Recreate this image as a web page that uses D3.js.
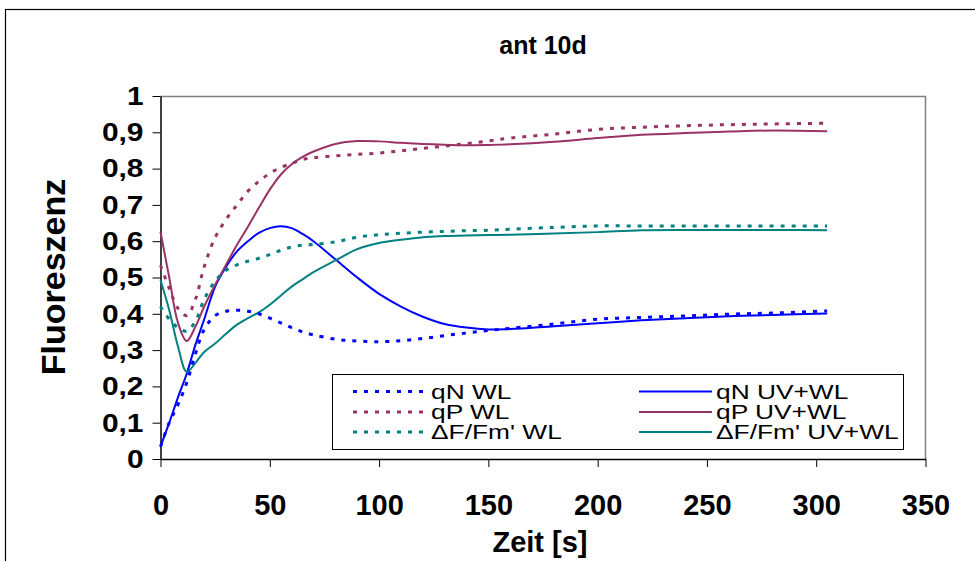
<!DOCTYPE html>
<html>
<head>
<meta charset="utf-8">
<script src="https://cdn.jsdelivr.net/npm/d3@7"></script>
<style>
  html, body { margin: 0; padding: 0; background: #fff; }
  svg { display: block; font-family: "Liberation Sans", Arial, sans-serif; }
</style>
</head>
<body>
<svg id="chart" width="975" height="561"></svg>
<script>
// ---- data ----
const times = [0, 4, 8, 12, 16, 20, 25, 30, 35, 40, 45, 50, 55, 60, 65, 70, 80, 90, 100, 110, 120, 130, 140, 150, 160, 180, 200, 220, 240, 260, 280, 305];

const qN_WL    = [0.034, 0.100, 0.150, 0.210, 0.290, 0.357, 0.395, 0.407, 0.410, 0.407, 0.400, 0.388, 0.375, 0.362, 0.350, 0.342, 0.330, 0.325, 0.323, 0.326, 0.332, 0.340, 0.347, 0.354, 0.360, 0.372, 0.385, 0.390, 0.394, 0.399, 0.402, 0.408];
const qN_UVWL  = [0.034, 0.100, 0.170, 0.235, 0.315, 0.385, 0.475, 0.530, 0.572, 0.600, 0.623, 0.636, 0.641, 0.636, 0.620, 0.600, 0.550, 0.500, 0.455, 0.420, 0.392, 0.372, 0.362, 0.357, 0.358, 0.366, 0.374, 0.382, 0.388, 0.393, 0.397, 0.401];
const qP_WL    = [0.534, 0.470, 0.415, 0.395, 0.440, 0.530, 0.610, 0.660, 0.700, 0.738, 0.765, 0.787, 0.803, 0.814, 0.825, 0.830, 0.835, 0.839, 0.843, 0.849, 0.856, 0.862, 0.869, 0.876, 0.884, 0.895, 0.908, 0.914, 0.918, 0.921, 0.923, 0.925];
const qP_UVWL  = [0.626, 0.500, 0.375, 0.325, 0.365, 0.420, 0.480, 0.535, 0.590, 0.640, 0.692, 0.742, 0.783, 0.812, 0.832, 0.847, 0.868, 0.876, 0.875, 0.871, 0.868, 0.866, 0.864, 0.865, 0.867, 0.874, 0.884, 0.893, 0.898, 0.902, 0.905, 0.903];
const dF_WL    = [0.420, 0.385, 0.362, 0.352, 0.380, 0.440, 0.490, 0.520, 0.535, 0.545, 0.553, 0.563, 0.575, 0.584, 0.589, 0.591, 0.598, 0.611, 0.618, 0.622, 0.625, 0.627, 0.629, 0.630, 0.633, 0.638, 0.642, 0.642, 0.642, 0.642, 0.642, 0.642];
const dF_UVWL  = [0.493, 0.410, 0.310, 0.240, 0.265, 0.295, 0.318, 0.345, 0.370, 0.388, 0.404, 0.425, 0.450, 0.475, 0.495, 0.515, 0.547, 0.578, 0.595, 0.604, 0.611, 0.614, 0.616, 0.617, 0.618, 0.621, 0.625, 0.630, 0.631, 0.631, 0.631, 0.630];

const seriesNames = ["qN WL", "qP WL", "\u0394F/Fm' WL", "qN UV+WL", "qP UV+WL", "\u0394F/Fm' UV+WL"];
const seriesValues = [qN_WL, qP_WL, dF_WL, qN_UVWL, qP_UVWL, dF_UVWL];
const seriesColors = ["#0000FF", "#993366", "#008080", "#0000FF", "#993366", "#008080"];
const seriesDashed = [true, true, true, false, false, false];

const xTicks = [0, 50, 100, 150, 200, 250, 300, 350];
const yTicks = [0, 0.1, 0.2, 0.3, 0.4, 0.5, 0.6, 0.7, 0.8, 0.9, 1];

const titleText = "ant 10d";
const xLabel = "Zeit [s]";
const yLabel = "Fluoreszenz";

// ---- layout ----
const svg = d3.select("#chart");
const plot = { left: 160.5, right: 925.5, top: 96, bottom: 459 };
const yTickStretch = 1.15;
const legendStretch = 1.35;

const x = d3.scaleLinear().domain([0, 350]).range([plot.left, plot.right]);
const y = d3.scaleLinear().domain([0, 1]).range([plot.bottom, plot.top]);

// outer chart border (extends past the window)
svg.append("rect")
  .attr("x", 5.5).attr("y", 9.5).attr("width", 1000).attr("height", 600)
  .attr("fill", "none").attr("stroke", "#000").attr("stroke-width", 1.2);

// plot border (top/right grey)
svg.append("path")
  .attr("d", `M${plot.left},${plot.top + 0.5}H${plot.right}V${plot.bottom}`)
  .attr("fill", "none").attr("stroke", "#808080").attr("stroke-width", 1.5);

// title
svg.append("text")
  .attr("x", 543).attr("y", 54)
  .attr("text-anchor", "middle")
  .attr("font-weight", "bold").attr("font-size", 25)
  .text(titleText);

// axes
const fmt = d => String(+d.toFixed(1)).replace(".", ",");

const yAxis = svg.append("g")
  .attr("transform", `translate(${plot.left},0)`)
  .call(d3.axisLeft(y).tickValues(yTicks).tickFormat(fmt).tickSize(8).tickSizeOuter(0).tickPadding(9));
const xAxis = svg.append("g")
  .attr("transform", `translate(0,${plot.bottom})`)
  .call(d3.axisBottom(x).tickValues(xTicks).tickFormat(d3.format("d")).tickSize(8).tickSizeOuter(0).tickPadding(32));

[yAxis, xAxis].forEach(g => {
  g.select(".domain").attr("stroke", "#000").attr("stroke-width", 1.5);
  g.selectAll(".tick line").attr("stroke", "#000").attr("stroke-width", 1);
  g.selectAll(".tick text")
    .attr("font-family", "Liberation Sans, Arial, sans-serif")
    .attr("font-weight", "bold").attr("fill", "#000");
});
yAxis.selectAll(".tick text")
  .attr("font-size", 26)
  .attr("x", 0)
  .attr("transform", `translate(-17,0) scale(${yTickStretch},1)`);
xAxis.selectAll(".tick text")
  .attr("font-size", 29)
  .attr("y", 0).attr("dy", 0)
  .attr("transform", `translate(0,56)`);

// axis titles
svg.append("text")
  .attr("x", 540).attr("y", 552)
  .attr("text-anchor", "middle")
  .attr("font-weight", "bold").attr("font-size", 29)
  .text(xLabel);
svg.append("text")
  .attr("transform", `translate(65,277) rotate(-90)`)
  .attr("text-anchor", "middle")
  .attr("font-weight", "bold").attr("font-size", 34)
  .text(yLabel);

// lines
const line = d3.line()
  .x(d => x(d[0])).y(d => y(d[1]))
  .curve(d3.curveCatmullRom.alpha(0.5));

const order = [3, 4, 5, 0, 1, 2];
order.forEach(i => {
  const pts = times.map((t, k) => [t, seriesValues[i][k]]);
  svg.append("path")
    .attr("d", line(pts))
    .attr("fill", "none")
    .attr("stroke", seriesColors[i])
    .attr("stroke-width", seriesDashed[i] ? 3 : 2)
    .attr("stroke-dasharray", seriesDashed[i] ? "4,7" : null);
});

// legend
const lg = svg.append("g");
lg.append("rect")
  .attr("x", 332.5).attr("y", 374.5).attr("width", 571).attr("height", 75)
  .attr("fill", "#fff").attr("stroke", "#000").attr("stroke-width", 1);
const rowY = [391.5, 412, 432];
seriesNames.forEach((name, i) => {
  const col = i < 3 ? 0 : 1;
  const row = i % 3;
  const x0 = col === 0 ? 353 : 639;
  const x1 = col === 0 ? 427 : 712;
  lg.append("line")
    .attr("x1", x0).attr("x2", x1).attr("y1", rowY[row]).attr("y2", rowY[row])
    .attr("stroke", seriesColors[i])
    .attr("stroke-width", seriesDashed[i] ? 3 : 2)
    .attr("stroke-dasharray", seriesDashed[i] ? "4,7" : null);
  lg.append("text")
    .attr("transform", `translate(${x1 + 4},${rowY[row] + 7}) scale(${legendStretch},1)`)
    .attr("font-size", 19.5)
    .text(name);
});
</script>
</body>
</html>
